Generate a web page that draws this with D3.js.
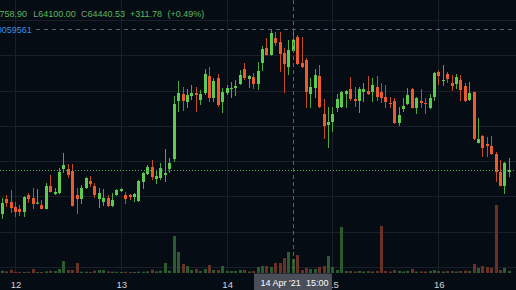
<!DOCTYPE html>
<html>
<head>
<meta charset="utf-8">
<script src="https://cdn.jsdelivr.net/npm/d3@7"></script>
<style>
  html, body { margin: 0; padding: 0; background: #050c14; overflow: hidden; }
  svg { display: block; }
</style>
</head>
<body>
<svg id="chart"></svg>
<script>
  var width = 516
  var height = 290
  var paneBottom = 273

  // hourly BTC candles, first one at 11 Apr 2021 21:00 UTC
  var startTime = "2021-04-11T21:00:00Z"

  var open = [
    59496, 59921, 59836,
    59694, 59638, 59553, 60035, 59950, 59790, 59751, 59638, 60290, 60063, 60092, 60772,
    60772, 60716, 60035, 59921, 60233, 60432, 60290, 59921, 59836, 59950, 59723, 60035,
    60148, 60035, 60035, 59978, 59865, 60404, 60631, 60829, 60489, 60517, 60602, 60772,
    61056, 62702, 62900, 62673, 62843, 62929, 62730, 62929, 63411, 62787, 63354, 62673,
    62929, 63042, 63070, 63184, 63609, 63326, 63382, 63184, 63780, 64205, 64007, 64489,
    64375, 64063, 63666, 64120, 64517, 63780, 63865, 62900, 63070, 63411, 62333, 62021,
    62106, 62503, 62531, 62900, 63042, 62758, 62702, 62957, 62985, 62957, 63099, 62957,
    62815, 62645, 62702, 62078, 62475, 62616, 63042, 62503, 62702, 62645, 62503, 62815,
    63524, 63269, 63468, 63212, 63184, 63297, 63127, 62730, 62957, 61510, 61709, 61482,
    61425, 61198, 60687, 60290, 60687
  ]
  var high = [
    59950, 60035, 60177,
    59836, 59751, 60006, 60092, 60233, 60205, 59893, 60375, 60602, 60233, 60801, 61226,
    60914, 60914, 60233, 60318, 60545, 60574, 60375, 60233, 60205, 60035, 60092, 60205,
    60220, 60120, 60063, 60092, 60460, 60687, 60886, 61028, 60744, 60943, 61340, 61085,
    62843, 63269, 63099, 63042, 63156, 63099, 63014, 63609, 63666, 63354, 63468, 63070,
    63156, 63241, 63297, 63581, 63780, 63439, 63496, 63808, 64262, 64489, 64716, 64659,
    64659, 64205, 64432, 64758.90, 64574, 64517, 63921, 63354, 63609, 63723, 62758, 62531,
    62531, 62900, 62985, 63014, 63382, 63099, 63099, 63212, 63411, 63354, 63411, 63212,
    63156, 62815, 62787, 62531, 62787, 63070, 63070, 62815, 63042, 62787, 62900, 63524,
    63581, 63723, 63524, 63439, 63468, 63439, 63212, 63241, 62970, 62219, 61737, 61680,
    61709, 61255, 61028, 60971, 61085
  ]
  var low = [
    59354, 59694, 59524,
    59411, 59439, 59411, 59808, 59638, 59770, 59630, 59630, 60110, 60035, 60063, 60659,
    60517, 59710, 59496, 59780, 60205, 60262, 59950, 59666, 59723, 59694, 59694, 60006,
    60120, 59780, 59893, 59836, 59836, 60205, 60602, 60460, 60347, 60460, 60404, 60659,
    60971, 62390, 62418, 62503, 62730, 62390, 62588, 62872, 62673, 62673, 62531, 62361,
    62872, 62787, 62843, 63156, 63297, 63070, 63042, 63014, 63553, 63990, 63990, 64262,
    63524, 62929, 63439, 64100.00, 63723, 63638, 62503, 62503, 62787, 62503, 61624, 61368,
    61822, 62390, 62503, 62503, 62702, 62531, 62361, 62673, 62872, 62673, 62702, 62645,
    62503, 62503, 62049, 61992, 62390, 62588, 62490, 62333, 62503, 62333, 62475, 62702,
    63156, 63127, 63212, 62985, 63042, 62702, 62673, 62702, 61595, 61500, 61113, 61113,
    61170, 60404, 60280, 60063, 60545
  ]
  var close = [
    59808, 59808, 59666,
    59553, 59553, 59978, 59921, 59780, 59820, 59638, 60290, 60120, 60120, 60687, 60886,
    60602, 59723, 59921, 60233, 60517, 60347, 60035, 60092, 59950, 59723, 59893, 60177,
    60205, 59921, 59978, 60063, 60432, 60659, 60829, 60545, 60574, 60801, 60659, 60943,
    62616, 62929, 62702, 62872, 62929, 62872, 62900, 63468, 62787, 63269, 62588, 62957,
    63070, 63070, 63127, 63439, 63354, 63411, 63184, 63553, 64177, 64007, 64631, 64347,
    64035, 63751, 64148, 64440.53, 63751, 63666, 62957, 63099, 63439, 62531, 61992, 62106,
    62333, 62758, 62957, 62985, 62758, 62702, 63042, 63042, 62900, 63156, 62815, 62787,
    62673, 62616, 62078, 62304, 62560, 62872, 62503, 62787, 62645, 62616, 62787, 63496,
    63411, 63297, 63326, 63127, 63382, 63014, 62702, 62929, 61624, 61624, 61368, 61425,
    61198, 60687, 60290, 60943, 60744
  ]
  var volume = [
    230, 170, 330,
    130, 100, 100, 130, 400, 100, 100, 170, 230, 200, 400, 1200,
    300, 300, 1000, 130, 130, 100, 230, 300, 300, 170, 130, 130,
    100, 130, 100, 100, 130, 130, 170, 330, 170, 230, 1000, 230,
    3700, 2100, 900, 700, 300, 400, 200, 400, 800, 300, 300, 700,
    200, 200, 200, 300, 300, 150, 200, 600, 700, 700, 600, 1000,
    1000, 1500, 2100, 1400, 1800, 300, 500, 400, 400, 600, 700, 1700,
    600, 300, 4600, 200, 200, 150, 200, 150, 200, 150, 200, 4700,
    200, 150, 300, 200, 150, 200, 400, 150, 150, 150, 200, 300,
    200, 150, 200, 200, 150, 200, 250, 200, 900, 500, 700, 600,
    500, 6800, 300, 500, 200
  ]

  var priceTicks = [58000, 59000, 60000, 61000, 62000, 63000, 64000, 65000]
  var dayTicks = ["2021-04-12", "2021-04-13", "2021-04-14", "2021-04-15", "2021-04-16"]
  var lastPrice = 60744
  var crossTime = "2021-04-14T15:00:00Z"
  var crossPrice = 64745

  var legendRow1 = [
    {label: "", value: "758.90", x: -0.5},
    {label: "L", value: "64100.00", x: 33.3},
    {label: "C", value: "64440.53", x: 81},
    {label: "", value: "+311.78", x: 130},
    {label: "", value: "(+0.49%)", x: 167.5}
  ]
  var legendVolume = "0059561"

  var upColor = '#5dcb4f', downColor = '#ec5b2e'
  var upWick = '#4aa940', downWick = '#c44c25'
  var upVol = '#2b5b2f', downVol = '#6a3125'
  var gridColor = '#1a202a'

  var svg = d3.select('#chart')
    .attr('width', width)
    .attr('height', height)

  svg.append('rect')
    .attr('width', width)
    .attr('height', height)
    .attr('fill', '#050c14')

  var t0 = new Date(startTime)
  var data = open.map(function (o, i) {
    return {
      time: d3.utcHour.offset(t0, i),
      open: o, high: high[i], low: low[i], close: close[i], volume: volume[i]
    }
  })

  // Scales
  var x = d3.scaleUtc()
    .domain([d3.utcMinute.offset(t0, -30), d3.utcMinute.offset(t0, (data.length + 0.5) * 60)])
    .range([0, width])

  var y = d3.scaleLinear()
    .domain([58000, 65000])
    .range([266.75, 20])

  var yVol = d3.scaleLinear()
    .domain([0, 7000])
    .range([paneBottom, paneBottom - 70])

  // Grid
  svg.append('g').selectAll('line')
    .data(priceTicks)
    .enter().append('line')
      .attr('x1', 0).attr('x2', width)
      .attr('y1', function (d) { return Math.round(y(d)) + 0.5 })
      .attr('y2', function (d) { return Math.round(y(d)) + 0.5 })
      .attr('stroke', gridColor)

  svg.append('g').selectAll('line')
    .data(dayTicks)
    .enter().append('line')
      .attr('x1', function (d) { return Math.floor(x(new Date(d))) + 0.5 })
      .attr('x2', function (d) { return Math.floor(x(new Date(d))) + 0.5 })
      .attr('y1', 0).attr('y2', paneBottom)
      .attr('stroke', gridColor)

  function left(d) { return Math.round(x(d.time) - 1.5) }

  // Volume
  svg.append('g').selectAll('rect')
    .data(data)
    .enter().append('rect')
      .attr('x', left)
      .attr('width', 3)
      .attr('y', function (d) { return yVol(d.volume) })
      .attr('height', function (d) { return paneBottom - yVol(d.volume) })
      .attr('fill', function (d) { return d.close >= d.open ? upVol : downVol })

  // Candles
  var candles = svg.append('g').selectAll('g')
    .data(data)
    .enter().append('g')

  candles.append('line')
    .attr('x1', function (d) { return left(d) + 1.5 })
    .attr('x2', function (d) { return left(d) + 1.5 })
    .attr('y1', function (d) { return y(d.high) })
    .attr('y2', function (d) { return y(d.low) })
    .attr('stroke', function (d) { return d.close >= d.open ? upWick : downWick })

  candles.append('rect')
    .attr('x', left)
    .attr('width', 3)
    .attr('y', function (d) { return y(Math.max(d.open, d.close)) })
    .attr('height', function (d) { return Math.max(1, Math.abs(y(d.open) - y(d.close))) })
    .attr('fill', function (d) { return d.close >= d.open ? upColor : downColor })

  // last price line
  svg.append('line')
    .attr('x1', 0).attr('x2', width)
    .attr('y1', Math.round(y(lastPrice)) + 0.5)
    .attr('y2', Math.round(y(lastPrice)) + 0.5)
    .attr('stroke', '#4caf50')
    .attr('stroke-dasharray', '1,2')

  // crosshair
  var cx = Math.round(x(new Date(crossTime))) + 0.5
  svg.append('line')
    .attr('x1', cx).attr('x2', cx)
    .attr('y1', 0).attr('y2', paneBottom)
    .attr('stroke', '#5b6370')
    .attr('stroke-dasharray', '4,3')
  svg.append('line')
    .attr('x1', 36).attr('x2', width)
    .attr('y1', Math.round(y(crossPrice)) + 0.5)
    .attr('y2', Math.round(y(crossPrice)) + 0.5)
    .attr('stroke', '#5b6370')
    .attr('stroke-dasharray', '4,4')

  // Legend
  var legend = svg.append('text')
    .attr('y', 17.3)
    .style('font', '9px "Liberation Sans", Arial, sans-serif')
  legendRow1.forEach(function (d) {
    if (d.label) {
      legend.append('tspan').attr('x', d.x).attr('fill', '#8c929d').text(d.label)
      legend.append('tspan').attr('fill', '#5cb85c').text(d.value)
    } else {
      legend.append('tspan').attr('x', d.x).attr('fill', '#5cb85c').text(d.value)
    }
  })
  svg.append('text')
    .attr('x', 31.7).attr('y', 33.3)
    .attr('text-anchor', 'end')
    .attr('fill', '#3b8fe0')
    .style('font', '9px "Liberation Sans", Arial, sans-serif')
    .text(legendVolume)

  // Time axis
  var xAxis = d3.axisBottom(x)
    .tickValues(dayTicks.map(function (d) { return new Date(d) }))
    .tickFormat(d3.utcFormat('%-d'))
    .tickSize(0)

  var axisG = svg.append('g')
    .attr('transform', 'translate(0,' + paneBottom + ')')
    .call(xAxis)
  axisG.select('.domain').remove()
  axisG.selectAll('text')
    .attr('y', 8)
    .attr('fill', '#d1d4dc')
    .style('font', '9.5px "Liberation Sans", Arial, sans-serif')

  // crosshair time label
  var lab = svg.append('g').attr('transform', 'translate(' + cx + ',' + paneBottom + ')')
  lab.append('rect')
    .attr('x', -39.5).attr('y', 0.5)
    .attr('width', 78).attr('height', 17)
    .attr('fill', '#4a4e59')
  lab.append('text')
    .attr('x', -33).attr('y', 13)
    .attr('fill', '#ffffff')
    .style('font', '9px "Liberation Sans", Arial, sans-serif')
    .text(d3.utcFormat("%-d %b '%y")(new Date(crossTime)))
  lab.append('text')
    .attr('x', 35).attr('y', 13)
    .attr('text-anchor', 'end')
    .attr('fill', '#ffffff')
    .style('font', '9px "Liberation Sans", Arial, sans-serif')
    .text(d3.utcFormat('%H:%M')(new Date(crossTime)))
</script>
</body>
</html>
